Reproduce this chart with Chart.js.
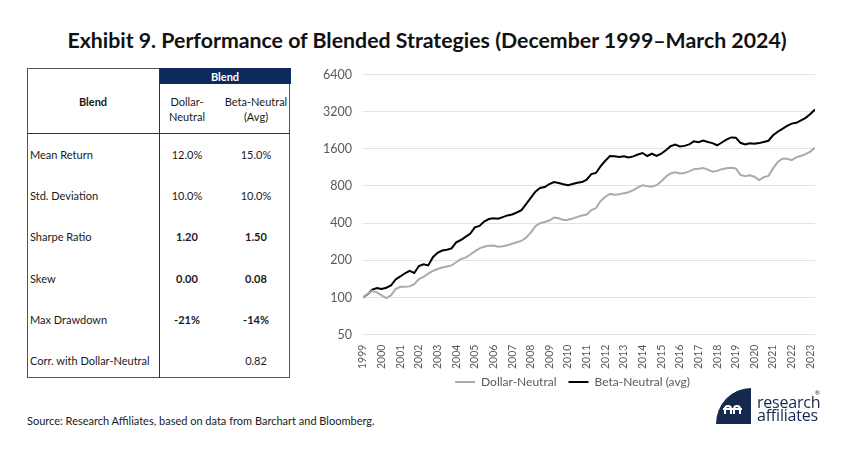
<!DOCTYPE html>
<html>
<head>
<meta charset="utf-8">
<script src="https://cdn.jsdelivr.net/npm/chart.js@4/dist/chart.umd.min.js"></script>
<style>
  html, body { margin:0; padding:0; background:#fff; }
  body { width:854px; height:453px; position:relative; overflow:hidden; font-family: Lato, "Open Sans", sans-serif; color:#1a1a1a; }
  .abs { position:absolute; }
  #title { left:0; width:854px; top:27px; text-align:center; font-size:21.3px; font-weight:700; color:#111; white-space:nowrap; }
  .t { position:absolute; font-size:11px; line-height:13px; white-space:nowrap; color:#1a1a1a; }
  .c { transform:translateX(-50%); text-align:center; }
  .b { font-weight:700; }
  #source { left:27px; top:414px; font-size:11px; color:#1a1a1a; }
  #wrap { position:absolute; left:300px; top:56px; width:540px; height:357px; }
  .logo-text { position:absolute; color:#15284e; font-size:16px; line-height:13px; font-family: "Open Sans", Lato, sans-serif; letter-spacing:-0.2px; }
</style>
</head>
<body>
<div id="title" class="abs">Exhibit 9. Performance of Blended Strategies (December 1999–March 2024)</div>

<!-- table -->
<div class="abs" style="left:27px;top:68px;width:263px;height:310px;border:1px solid #555;box-sizing:border-box;"></div>
<div class="abs" style="left:159px;top:68px;width:132px;height:16px;background:#0d2a5c;"></div>
<div class="abs" style="left:159px;top:68px;width:1px;height:310px;background:#333;"></div>
<div class="abs" style="left:27px;top:133px;width:263px;height:1px;background:#333;"></div>

<div class="t c b" style="left:225px;top:70px;color:#fff;">Blend</div>
<div class="t c b" style="left:93px;top:95px;">Blend</div>
<div class="t c" style="left:187px;top:95px;">Dollar-</div>
<div class="t c" style="left:187px;top:110px;">Neutral</div>
<div class="t c" style="left:256px;top:95px;">Beta-Neutral</div>
<div class="t c" style="left:256px;top:110px;">(Avg)</div>

<div id="wrap"><canvas id="chart" width="540" height="357"></canvas></div>

<div id="source" class="abs">Source: Research Affiliates, based on data from Barchart and Bloomberg.</div>

<!-- logo -->
<div class="abs" style="left:716px;top:388px;width:35px;height:36px;background:#15284e;border-top-left-radius:35px 36px;"></div>
<div class="abs" style="left:724px;top:405px;width:8px;height:9px;border:2px solid #fff;border-bottom:none;border-radius:5px 5px 0 0;box-sizing:border-box;"></div>
<div class="abs" style="left:733px;top:405px;width:8px;height:9px;border:2px solid #fff;border-bottom:none;border-radius:5px 5px 0 0;box-sizing:border-box;"></div>
<div class="abs" style="left:723px;top:408px;width:19px;height:2px;background:#fff;"></div>
<div class="logo-text" style="left:757px;top:396px;">research</div>
<div class="logo-text" style="left:757px;top:409px;">affiliates</div>
<div class="abs" style="left:815px;top:389px;font-size:6px;color:#15284e;">®</div>

<script>
// ---- table data ----
const rowLabels = ["Mean Return","Std. Deviation","Sharpe Ratio","Skew","Max Drawdown","Corr. with Dollar-Neutral"];
const dollarNeutralStats = ["12.0%","10.0%","1.20","0.00","-21%",""];
const betaNeutralStats = ["15.0%","10.0%","1.50","0.08","-14%","0.82"];
const boldRows = [false,false,true,true,true,false];
const rowY = [148,189,230,272,313,354];

// ---- chart data ----
// months since December 1999 (quarterly samples), index values (start = 100)
const months = [0,3,6,9,12,15,18,21,24,27,30,33,36,39,42,45,48,51,54,57,60,63,66,69,72,75,78,81,84,87,90,93,96,99,102,105,108,111,114,117,120,123,126,129,132,135,138,141,144,147,150,153,156,159,162,165,168,171,174,177,180,183,186,189,192,195,198,201,204,207,210,213,216,219,222,225,228,231,234,237,240,243,246,249,252,255,258,261,264,267,270,273,276,279,282,285,288,291];
const dollarNeutral = [100,107,113,110,104,99,104,117,122,122,123,128,141,147,156,164,170,175,178,182,193,205,210,222,236,250,258,263,264,258,260,265,272,280,287,305,335,378,400,409,420,445,438,425,426,436,450,462,470,510,530,605,655,690,680,685,700,712,740,780,810,798,790,812,870,950,1010,1035,1010,1020,1050,1095,1105,1118,1086,1045,1060,1095,1115,1125,1110,985,960,975,950,892,945,965,1110,1250,1330,1330,1295,1365,1405,1450,1520,1636];
const betaNeutral = [100,106,116,119,117,120,125,140,148,157,164,158,180,186,182,212,230,240,244,250,280,292,310,328,370,380,412,432,438,434,448,462,470,488,510,570,640,720,770,785,830,862,845,825,811,830,850,860,900,1000,1020,1160,1280,1400,1390,1375,1390,1360,1390,1440,1480,1400,1460,1400,1460,1560,1680,1730,1670,1690,1740,1840,1810,1870,1820,1780,1710,1800,1900,1980,1970,1790,1735,1775,1760,1780,1820,1860,2060,2200,2320,2450,2560,2600,2720,2850,3060,3330];
const yearLabels = ["1999","2000","2001","2002","2003","2004","2005","2006","2007","2008","2009","2010","2011","2012","2013","2014","2015","2016","2017","2018","2019","2020","2021","2022","2023"];
const yTicks = [50,100,200,400,800,1600,3200,6400];
const seriesNames = ["Dollar-Neutral","Beta-Neutral (avg)"];
const seriesColors = ["#ababab","#000000"];

// build table rows
rowLabels.forEach((lab,i)=>{
  const y = rowY[i];
  const add = (txt, left, cls) => {
    const d = document.createElement('div');
    d.className = 't ' + cls;
    d.style.left = left + 'px';
    d.style.top = y + 'px';
    d.textContent = txt;
    document.body.appendChild(d);
  };
  add(lab, 30, '');
  add(dollarNeutralStats[i], 187, 'c' + (boldRows[i] ? ' b' : ''));
  add(betaNeutralStats[i], 256, 'c' + (boldRows[i] ? ' b' : ''));
});

const toXY = arr => arr.map((v,i)=>({x: months[i], y: v}));

const legendShift = { id: 'legendShift', afterLayout(chart) {
  const lg = chart.legend; const dx = 15, dy = -15;
  lg.left += dx; lg.right += dx; lg.top += dy; lg.bottom += dy;
}};

new Chart(document.getElementById('chart'), {
  type: 'line',
  data: {
    datasets: [
      { label: seriesNames[0], data: toXY(dollarNeutral), borderColor: seriesColors[0], backgroundColor: seriesColors[0], borderWidth: 2, pointRadius: 0, tension: 0 },
      { label: seriesNames[1], data: toXY(betaNeutral), borderColor: seriesColors[1], backgroundColor: seriesColors[1], borderWidth: 2, pointRadius: 0, tension: 0 }
    ]
  },
  plugins: [legendShift],
  options: {
    responsive: false,
    animation: false,
    layout: { padding: { top: 9, right: 25, left: 0, bottom: 0 } },
    plugins: {
      tooltip: { enabled: false },
      legend: {
        position: 'bottom',
        labels: {
          font: { family: 'Lato', size: 12, lineHeight: 1 },
          color: '#595959',
          boxWidth: 20,
          boxHeight: 2,
          padding: 12,
          generateLabels: (chart) => chart.data.datasets.map((ds, i) => ({
            text: ds.label, fillStyle: ds.borderColor, strokeStyle: ds.borderColor, lineWidth: 0, datasetIndex: i, fontColor: '#595959'
          }))
        }
      }
    },
    scales: {
      x: {
        type: 'linear',
        min: 0, max: 291,
        grid: { display: false, drawTicks: false },
        border: { display: false },
        afterBuildTicks: (s) => { s.ticks = yearLabels.map((_, i) => ({ value: i * 12 })); },
        ticks: {
          autoSkip: false, minRotation: 90, maxRotation: 90, padding: 10,
          color: '#595959', font: { family: 'Lato', size: 10.5 },
          callback: (v) => yearLabels[Math.round(v / 12)]
        }
      },
      y: {
        type: 'logarithmic',
        min: 50, max: 6400,
        border: { display: false },
        grid: { color: '#e3e3e3', lineWidth: 1, drawTicks: false },
        afterBuildTicks: (s) => { s.ticks = yTicks.map(v => ({ value: v })); },
        afterFit: (s) => { s.width = 63; },
        ticks: { padding: 11, color: '#595959', font: { family: 'Lato', size: 12.5 }, callback: (v) => String(v) }
      }
    }
  }
});
</script>
</body>
</html>
